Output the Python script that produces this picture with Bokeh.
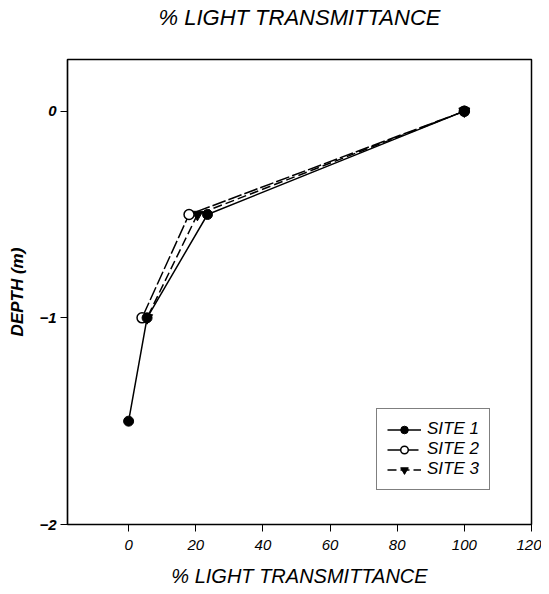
from bokeh.plotting import figure
from bokeh.models import FixedTicker, Range1d, Legend
from bokeh.embed import file_html
from bokeh.resources import INLINE

# Data
depth_site1 = [0.0, -0.5, -1.0, -1.5]
trans_site1 = [100.0, 23.5, 5.5, 0.0]
depth_site2 = [0.0, -0.5, -1.0]
trans_site2 = [100.0, 18.0, 4.0]
depth_site3 = [0.0, -0.5, -1.0]
trans_site3 = [100.0, 20.5, 5.5]
x_ticks = [0, 20, 40, 60, 80, 100, 120]
y_ticks = [-2, -1, 0]
title_text = "% LIGHT TRANSMITTANCE"

FONT = "Liberation Sans"
X_MIN, X_MAX = -18.2, 120
Y_MIN, Y_MAX = -2, 0.25

p = figure(frame_width=464, frame_height=465, output_backend="svg", toolbar_location=None,
           x_range=Range1d(X_MIN, X_MAX), y_range=Range1d(Y_MIN, Y_MAX),
           title=title_text + "\n ",
           min_border_left=67, min_border_right=10, min_border_top=59, min_border_bottom=62)

p.title.align = "center"
p.title.vertical_align = "top"
p.title.text_font = FONT
p.title.text_font_size = "22px"
p.title.text_font_style = "italic"
p.title.text_color = "black"
p.title.standoff = 5

p.xgrid.visible = False
p.ygrid.visible = False
p.outline_line_color = "black"
p.outline_line_width = 1.5

p.xaxis.ticker = FixedTicker(ticks=x_ticks)
p.yaxis.ticker = FixedTicker(ticks=y_ticks)
for ax in (p.xaxis, p.yaxis):
    ax.minor_tick_line_color = None
    ax.major_tick_in = 0
    ax.major_tick_out = 7
    ax.major_tick_line_color = "black"
    ax.axis_line_color = "black"
    ax.axis_line_width = 1.2
    ax.major_label_text_font = FONT
    ax.major_label_text_color = "black"
    ax.axis_label_text_font = FONT
    ax.axis_label_text_color = "black"

p.xaxis.axis_label = title_text
p.xaxis.axis_label_text_font_size = "20px"
p.xaxis.axis_label_text_font_style = "italic"
p.xaxis.major_label_text_font_size = "15px"
p.xaxis.major_label_text_font_style = "italic"
p.xaxis.major_label_standoff = 8
p.xaxis.axis_label_standoff = 12

p.yaxis.axis_label = "DEPTH (m)"
p.yaxis.axis_label_text_font_size = "17px"
p.yaxis.axis_label_text_font_style = "bold italic"
p.yaxis.major_label_text_font_size = "15px"
p.yaxis.major_label_text_font_style = "bold italic"
p.yaxis.major_label_standoff = 4
p.yaxis.axis_label_standoff = 9

l3 = p.line(trans_site3, depth_site3, line_color="black", line_width=1.5, line_dash="9 4")
s3 = p.scatter(trans_site3, depth_site3, marker="inverted_triangle", size=11,
               fill_color="black", line_color="black")
l2 = p.line(trans_site2, depth_site2, line_color="black", line_width=1.5, line_dash="14 3")
s2 = p.scatter(trans_site2, depth_site2, marker="circle", size=10,
               fill_color="white", line_color="black", line_width=1.5)
l1 = p.line(trans_site1, depth_site1, line_color="black", line_width=1.5)
s1 = p.scatter(trans_site1, depth_site1, marker="circle", size=10,
               fill_color="black", line_color="black")

legend = Legend(items=[("SITE 1", [l1, s1]), ("SITE 2", [l2, s2]), ("SITE 3", [l3, s3])],
                location=(309, 34))
legend.label_text_font = FONT
legend.label_text_font_size = "17px"
legend.label_text_font_style = "italic"
legend.label_text_color = "black"
legend.glyph_width = 34
legend.glyph_height = 19
legend.label_height = 19
legend.spacing = 0
legend.padding = 10
legend.margin = 0
legend.label_standoff = 6
legend.border_line_color = "black"
legend.border_line_width = 1.5
legend.background_fill_alpha = 1.0
p.add_layout(legend, "center")

open("out.html", "w").write(file_html(p, INLINE))
